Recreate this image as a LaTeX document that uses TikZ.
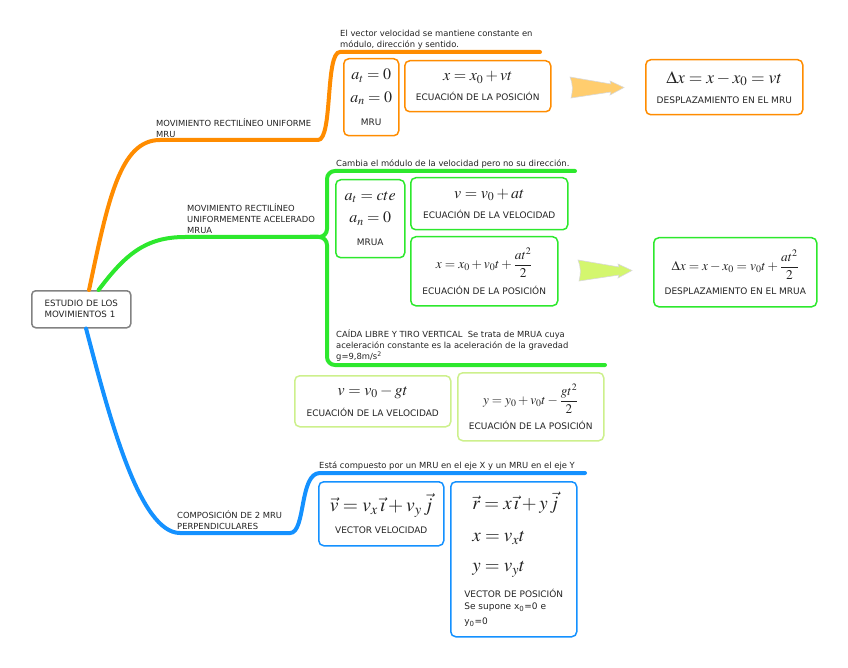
\documentclass[tikz,border=0pt]{standalone}
\usepackage{amsmath}
\usepackage{mathptmx}
\usepackage[no-math]{fontspec}
\setmainfont{DejaVu Sans}

\definecolor{mruorange}{RGB}{255,140,0}
\definecolor{mruagreen}{RGB}{45,232,45}
\definecolor{caidagreen}{RGB}{205,240,140}
\definecolor{compblue}{RGB}{20,145,255}
\definecolor{rootgray}{RGB}{130,130,130}
\definecolor{inkgray}{RGB}{35,35,35}
\definecolor{arroworange}{RGB}{255,205,110}
\definecolor{arrowgreen}{RGB}{212,246,110}

\newcommand\capfont{\fontsize{9}{11}\selectfont}
\newcommand\notefont{\fontsize{8.4}{11}\selectfont}
\newcommand\rootfont{\fontsize{8.7}{11}\selectfont}
% formula of a given size
\newcommand\formula[2]{{\fontsize{#1}{#1}\selectfont$#2$}}

\begin{document}
\begin{tikzpicture}[x=1pt, y=-1pt,
  branch/.style = {line width=4pt, line cap=round},
  eqbox/.style = {draw, line width=1.5pt, rounded corners=5pt, anchor=north west,
                  align=center, text=inkgray, inner sep=2pt, font=\capfont},
  mrubox/.style = {eqbox, draw=mruorange},
  mruabox/.style = {eqbox, draw=mruagreen},
  caidabox/.style = {eqbox, draw=caidagreen},
  compbox/.style = {eqbox, draw=compblue},
  rootbox/.style = {eqbox, draw=rootgray, rounded corners=4pt, font=\rootfont, align=left},
  branchtext/.style = {anchor=south west, align=left, inner sep=1pt, font=\notefont, text=inkgray},
  fatarrow/.style = {draw=black!15, line width=0.6pt},
  ]
  \useasboundingbox (0,0) rectangle (848,668);

  % central topic
  \node[rootbox, minimum width=99, minimum height=37] (root) at (31,290) {ESTUDIO DE LOS\\MOVIMIENTOS 1};

  % free ends of the branches
  \coordinate (mruend) at (540,52);
  \coordinate (mruaup) at (575,171);
  \coordinate (mruadown) at (605,365);
  \coordinate (compend) at (585,473);

  % branches
  \draw[branch, mruorange] (root.68) .. controls (108,200) and (120,140) .. (160,140)
    -- (318,140) .. controls (333,140) and (325,52) .. (340,52) -- (mruend);
  \draw[branch, mruagreen] (root.48) .. controls (125,255) and (145,237) .. (185,237) -- (318,237);
  \draw[branch, mruagreen, rounded corners=8pt] (310,237) -| (327,171) -- (mruaup);
  \draw[branch, mruagreen, rounded corners=8pt] (310,237) -| (327,365) -- (mruadown);
  \draw[branch, compblue] (root.-76) .. controls (110,420) and (140,533) .. (180,533)
    -- (290,533) .. controls (306,533) and (299,473) .. (320,473) -- (compend);

  % branch texts
  \node[branchtext] (mrutext) at (155,139) {MOVIMIENTO RECTILÍNEO UNIFORME\\MRU};
  \node[branchtext] (mrunote) at (339,50) {El vector velocidad se mantiene constante en\\módulo, dirección y sentido.};
  \node[branchtext] (mruatext) at (186,235) {MOVIMIENTO RECTILÍNEO\\UNIFORMEMENTE ACELERADO\\MRUA};
  \node[branchtext] (mruanote) at (335,169) {Cambia el módulo de la velocidad pero no su dirección.};
  \node[branchtext] (caidanote) at (335,362) {CAÍDA LIBRE Y TIRO VERTICAL\ \ Se trata de MRUA cuya\\aceleración constante es la aceleración de la gravedad\\g=9,8m/s\textsuperscript{2}};
  \node[branchtext] (comptext) at (176,531) {COMPOSICIÓN DE 2 MRU\\PERPENDICULARES};
  \node[branchtext] (compnote) at (318,471) {Está compuesto por un MRU en el eje X y un MRU en el eje Y};

  % MRU
  \node[mrubox, minimum width=55, minimum height=77] (mru) at (343,58)
    {\formula{16}{a_t = 0}\\[8pt] \formula{16}{a_n = 0}\\[12pt] MRU};
  \node[mrubox, minimum width=146, minimum height=51] (posmru) at (404,60)
    {\formula{16}{x = x_0 + vt}\\[9pt] ECUACIÓN DE LA POSICIÓN};
  \node[mrubox, minimum width=157, minimum height=55] (despmru) at (645,59)
    {\formula{17.5}{\Delta x = x - x_0 = vt}\\[9pt] DESPLAZAMIENTO EN EL MRU};

  % MRUA
  \node[mruabox, minimum width=69, minimum height=78] (mrua) at (335,179)
    {\formula{16}{a_t = cte}\\[8pt] \formula{16}{a_n = 0}\\[12pt] MRUA};
  \node[mruabox, minimum width=157, minimum height=52] (velmrua) at (410,177)
    {\formula{16}{v = v_0 + at}\\[9pt] ECUACIÓN DE LA VELOCIDAD};
  \node[mruabox, minimum width=147, minimum height=69] (posmrua) at (410,236)
    {\formula{13.4}{x = x_0 + v_0t + \dfrac{at^2}{2}}\\[7pt] ECUACIÓN DE LA POSICIÓN};
  \node[mruabox, minimum width=163, minimum height=69] (despmrua) at (653,237)
    {\formula{13.4}{\Delta x = x - x_0 = v_0t + \dfrac{at^2}{2}}\\[7pt] DESPLAZAMIENTO EN EL MRUA};

  % caida libre
  \node[caidabox, minimum width=156, minimum height=51] (velcaida) at (294,375)
    {\formula{16}{v = v_0 - gt}\\[8pt] ECUACIÓN DE LA VELOCIDAD};
  \node[caidabox, minimum width=146, minimum height=68] (poscaida) at (457,372)
    {\formula{13.2}{y = y_0 + v_0t - \dfrac{gt^2}{2}}\\[7pt] ECUACIÓN DE LA POSICIÓN};

  % composicion
  \node[compbox, minimum width=125, minimum height=64] (velcomp) at (318,481)
    {\formula{19.5}{\vec v = v_x\,\vec{\imath} + v_y\,\vec{j}}\\[9pt] VECTOR VELOCIDAD};
  \node[compbox, minimum width=126, minimum height=155, align=left, inner sep=6pt] (poscomp) at (450,481)
    {\hspace*{8pt}\formula{19}{\vec r = x\,\vec{\imath} + y\,\vec{j}}\\[17pt]
     \hspace*{8pt}\formula{19}{x = v_xt}\\[15pt]
     \hspace*{8pt}\formula{19}{y = v_yt}\\[11pt]
     VECTOR DE POSICIÓN\\[1pt] Se supone x\textsubscript{0}=0 e\\[4pt] y\textsubscript{0}=0};

  % arrows between the boxes
  \draw[fatarrow, fill=arroworange] (570,77) -- (611,84) -- (610,81) -- (624,87.5) -- (610,95)
    -- (611,92) -- (571,98) .. controls (573,90) and (573,85) .. cycle;
  \draw[fatarrow, fill=arrowgreen, shift={(8,183)}] (570,77) -- (611,84) -- (610,81) -- (624,87.5) -- (610,95)
    -- (611,92) -- (571,98) .. controls (573,90) and (573,85) .. cycle;
\end{tikzpicture}
\end{document}
